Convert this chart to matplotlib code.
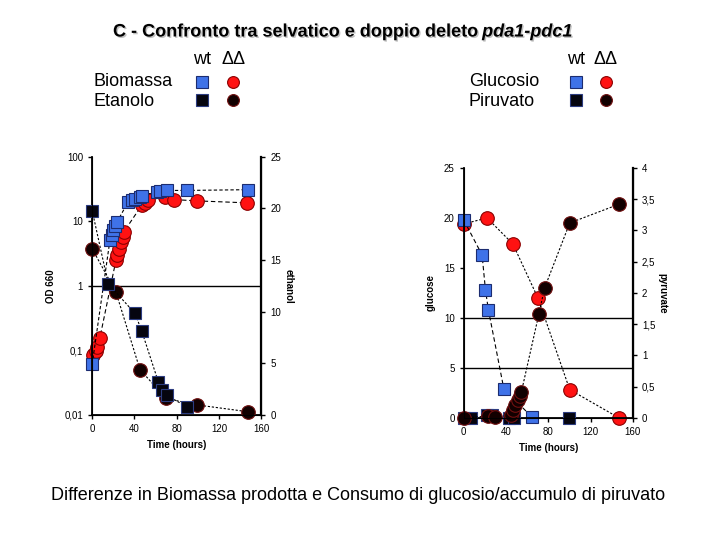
import matplotlib.pyplot as plt
import matplotlib.patheffects as pe
from matplotlib.lines import Line2D

plt.rcParams['font.family'] = ['Liberation Sans', 'DejaVu Sans']

# --- left panel: biomass (OD 660, log) and ethanol ---
bio_wt_t = [0, 16.8, 18.3, 19.9, 21.5, 23.7, 34, 37.3, 40.5, 45.2, 46.8, 61, 64.2, 70.5, 89.5, 147]
bio_wt = [0.061, 5.1, 6.1, 7.3, 8.4, 9.9, 20.1, 21.3, 22.6, 24, 24.9, 28.7, 29.5, 30.2, 30.2, 31]
bio_dd_t = [1, 3.5, 4.7, 7.3, 22.5, 23.7, 25.6, 26.9, 28.8, 30, 47, 50, 53, 69, 77, 99, 146]
bio_dd = [0.085, 0.099, 0.114, 0.157, 2.5, 3.0, 3.8, 4.8, 5.8, 6.9, 17.9, 19.4, 21.8, 23.5, 21.8, 20.8, 19.4]
eth_wt_t = [0, 15.2, 40.5, 46.8, 62.6, 65.8, 70.5, 89.5]
eth_wt = [19.8, 12.7, 9.84, 8.16, 3.2, 2.4, 1.9, 0.8]
eth_dd_t = [0, 22.5, 45.2, 69.9, 99.6, 147]
eth_dd = [16.1, 11.9, 4.4, 1.6, 0.97, 0.32]

# --- right panel: glucose and pyruvate ---
glu_wt_t = [0, 17.4, 20.6, 23.4, 38, 64.5]
glu_wt = [19.8, 16.3, 12.8, 10.8, 2.9, 0.1]
glu_dd_t = [0, 22.1, 46.5, 70.2, 100.3, 147]
glu_dd = [19.4, 20, 17.4, 12, 2.83, 0]
pyr_wt_t = [0, 7, 22.4, 27.2, 43, 48, 100]
pyr_wt = [0, 0, 0.05, 0.05, 0, 0, 0]
pyr_dd_t = [0, 22.8, 30, 45, 47, 49, 51, 53, 54.5, 71.2, 76.5, 100.3, 147]
pyr_dd = [0, 0.03, 0.01, 0.05, 0.13, 0.21, 0.28, 0.35, 0.41, 1.67, 2.08, 3.12, 3.42]

od_ticks = [0.01, 0.1, 1, 10, 100]
od_labels = ['0,01', '0,1', '1', '10', '100']
pyr_ticks = [0, 0.5, 1, 1.5, 2, 2.5, 3, 3.5, 4]
pyr_labels = ['0', '0,5', '1', '1,5', '2', '2,5', '3', '3,5', '4']
time_ticks = [0, 40, 80, 120, 160]

blue, blue_e = '#3f72e8', '#1c2c70'
red, red_e = '#ff1212', '#8a0000'
blk, blk_e = '#05050f', '#2c3c80'
blkc, blkc_e = '#120000', '#701010'

sq = dict(marker='s', ms=9.3, mew=0.8, clip_on=False)
ci = dict(marker='o', ms=9.8, mew=0.8, clip_on=False)
dot = dict(color='black', lw=0.8, ls=(0, (2, 1.6)))
dash = dict(color='black', lw=0.8, ls=(0, (4, 2.5)))

fig = plt.figure(figsize=(7.2, 5.4), dpi=100)


def style(ax, twin):
    for a in (ax, twin):
        a.spines['top'].set_visible(False)
        a.tick_params(labelsize=7, length=3, width=1, direction='out')
    ax.spines['left'].set_linewidth(1.3)
    ax.spines['bottom'].set_linewidth(1.3)
    twin.spines['right'].set_linewidth(1.6)
    ax.set_xlim(0, 160)
    ax.set_xticks(time_ticks)
    ax.set_xlabel('Time (hours)', fontsize=7, fontweight='bold', labelpad=4)


# left
ax1 = fig.add_axes([0.128, 0.2315, 0.235, 0.478])
ax1b = ax1.twinx()
ax1.set_yscale('log')
ax1.set_ylim(0.01, 100)
ax1.set_yticks(od_ticks)
ax1.set_yticklabels(od_labels)
ax1.minorticks_off()
ax1.axhline(1, color='black', lw=1)
ax1.plot(bio_dd_t, bio_dd, mfc=red, mec=red_e, **ci, **dash)
ax1.plot(bio_wt_t, bio_wt, color='black', mfc=blue, mec=blue_e, lw=0.8, ls=(0, (3, 2)), **sq)
ax1b.set_ylim(0, 25)
ax1b.set_yticks([0, 5, 10, 15, 20, 25])
ax1b.plot(eth_dd_t, eth_dd, mfc=blkc, mec=blkc_e, **ci, **dot)
ax1b.plot(eth_wt_t, eth_wt, mfc=blk, mec=blk_e, **sq, **dot)
ax1.set_ylabel('OD 660', fontsize=7, fontweight='bold', labelpad=6)
ax1b.set_ylabel('ethanol', fontsize=7, fontweight='bold', rotation=270, labelpad=9)
style(ax1, ax1b)

# right
ax2 = fig.add_axes([0.644, 0.226, 0.235, 0.463])
ax2b = ax2.twinx()
ax2.set_ylim(0, 25)
ax2.set_yticks([0, 5, 10, 15, 20, 25])
ax2.axhline(5, color='black', lw=1)
ax2.axhline(10, color='black', lw=1)
ax2.plot(glu_dd_t, glu_dd, mfc=red, mec=red_e, **ci, **dot)
ax2.plot(glu_wt_t, glu_wt, mfc=blue, mec=blue_e, **sq, **dash)
ax2b.set_ylim(0, 4)
ax2b.set_yticks(pyr_ticks)
ax2b.set_yticklabels(pyr_labels)
ax2b.plot(pyr_wt_t, pyr_wt, mfc=blk, mec=blk_e, ls='none', **sq)
ax2b.plot(pyr_dd_t, pyr_dd, mfc=blkc, mec=blkc_e, **ci, **dot)
ax2.set_ylabel('glucose', fontsize=7, fontweight='bold', labelpad=6)
ax2b.set_ylabel('pyruvate', fontsize=7, fontweight='bold', rotation=270, labelpad=9)
style(ax2, ax2b)

# title
shadow = [pe.withSimplePatchShadow(offset=(1, -1), shadow_rgbFace='#999999', alpha=0.6)]
t1 = fig.text(113 / 720, 1 - 32 / 540, 'C - Confronto tra selvatico e doppio deleto',
              fontsize=13, fontweight='bold', va='center', ha='left', path_effects=shadow)
fig.canvas.draw()
bb = t1.get_window_extent()
fig.text((bb.x1 + 5) / 720, 1 - 32 / 540, 'pda1-pdc1', fontsize=13, fontweight='bold',
         style='italic', va='center', ha='left', path_effects=shadow)

# header legends
for x0, names, xs in [(93, ['Biomassa', 'Etanolo'], (202, 233)),
                      (469, ['Glucosio', 'Piruvato'], (576, 606))]:
    fig.text(x0 / 720, 1 - 81 / 540, names[0], fontsize=13, va='center')
    fig.text(x0 / 720, 1 - 102 / 540, names[1], fontsize=13, va='center')
    fig.text(xs[0] / 720, 1 - 60 / 540, 'wt', fontsize=13, va='center', ha='center')
    fig.text(xs[1] / 720, 1 - 60 / 540, 'ΔΔ', fontsize=13, va='center', ha='center')
    for y, (fs, es), (fc, ec) in [(82, (blue, blue_e), (red, red_e)),
                                  (100, (blk, blk_e), (blkc, blkc_e))]:
        fig.add_artist(Line2D([xs[0] / 720], [1 - y / 540], transform=fig.transFigure,
                              marker='s', ms=8, mfc=fs, mec=es, mew=0.8))
        fig.add_artist(Line2D([xs[1] / 720], [1 - y / 540], transform=fig.transFigure,
                              marker='o', ms=8.5, mfc=fc, mec=ec, mew=0.8))

fig.text(358 / 720, 1 - 496 / 540,
         'Differenze in Biomassa prodotta e Consumo di glucosio/accumulo di piruvato',
         fontsize=13, ha='center', va='center')

fig.savefig('out.png', dpi=100)
